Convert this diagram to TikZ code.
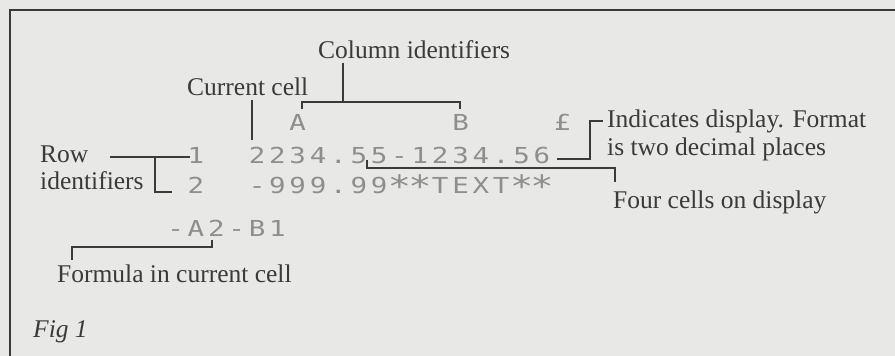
\documentclass[tikz,border=0pt]{standalone}
\usepackage{fontspec}
\setmainfont{Liberation Serif}
\newfontfamily\scrfont[FakeStretch=1.25]{DejaVu Sans Mono}
\definecolor{bg}{HTML}{E8E8E7}
\definecolor{ink}{HTML}{3A3A3A}
\definecolor{dots}{HTML}{8E8E8E}
\newcommand\scrast{\raisebox{-.35ex}{\scalebox{1.4}{*}}}
\tikzset{
  lbl/.style={font=\fontsize{25.5}{28}\selectfont, text=ink, anchor=base west, inner sep=0pt},
  scr/.style={font=\scrfont\fontsize{22}{22}\selectfont, text=dots, anchor=base, inner sep=0pt},
  conn/.style={draw=ink, line width=1.4pt},
  frame/.style={draw=ink, line width=2pt},
}
\begin{document}
\begin{tikzpicture}[x=1pt,y=-1pt]
\useasboundingbox (0,0) rectangle (895,356);
\fill[bg] (0,0) rectangle (895,356);
\draw[frame] (10,356) -- (10,10) -- (895,10);

% labels
\node[lbl] (colid) at (318,58) {Column identifiers};
\node[lbl] (cur) at (187,95) {Current cell};
\node[lbl] (row1) at (40,162) {Row};
\node[lbl] (row2) at (40,189) {identifiers};
\node[lbl] (ind1) at (607,127) {Indicates display. Format};
\node[lbl] (ind2) at (607,155) {is two decimal places};
\node[lbl] (four) at (613,208) {Four cells on display};
\node[lbl] (form) at (57,282) {Formula in current cell};
\node[lbl, font=\fontsize{25.5}{28}\selectfont\itshape] (fig) at (33,337) {Fig 1};

% screen
\node[scr] (hA) at ({196+5*20.35},130) {A};
\node[scr] (hB) at ({196+13*20.35},130) {B};
\node[scr] (hP) at ({196+18*20.35},130) {£};
\node[scr] (n1) at (196,163) {1};
\node[scr] (n2) at (196,193) {2};
\foreach \c [count=\i from 3] in {2,2,3,4,.,5,5,-,1,2,3,4,.,5,6}
  \node[scr] (ra\i) at ({196+\i*20.35},163) {\c};
\foreach \c [count=\i from 3] in {-,9,9,9,.,9,9,\scrast,\scrast,T,E,X,T,\scrast,\scrast}
  \node[scr] (rb\i) at ({196+\i*20.35},193) {\c};
\foreach \c [count=\i from 0] in {-,A,2,-,B,1}
  \node[scr] (rc\i) at ({196+(\i-1)*20.35},236) {\c};

% connectors
\coordinate (curTop) at (252,100);
\coordinate (curBot) at (252,140);
\draw[conn] (curTop) -- (curBot);

\coordinate (colTop) at (343,63);
\coordinate (colMid) at (343,102);
\coordinate (colL) at (302,109);
\coordinate (colR) at (460,109);
\draw[conn] (colTop) -- (colMid);
\draw[conn] (colL) -- (302,102) -- (460,102) -- (colR);

\coordinate (rowA) at (110,157);
\coordinate (rowB) at (190,157);
\coordinate (rowC) at (155,157);
\coordinate (rowD) at (172,192);
\draw[conn] (rowA) -- (rowB);
\draw[conn] (rowC) -- (155,192) -- (rowD);

\coordinate (indA) at (557,159);
\coordinate (indB) at (603,121);
\draw[conn] (indA) -- (590,159) -- (590,121) -- (indB);

\coordinate (fourA) at (367,160);
\coordinate (fourB) at (615,182);
\draw[conn] (fourA) -- (367,168) -- (615,168) -- (fourB);

\coordinate (formA) at (212,240);
\coordinate (formB) at (72,260);
\draw[conn] (formA) -- (212,247) -- (72,247) -- (formB);
\end{tikzpicture}
\end{document}
